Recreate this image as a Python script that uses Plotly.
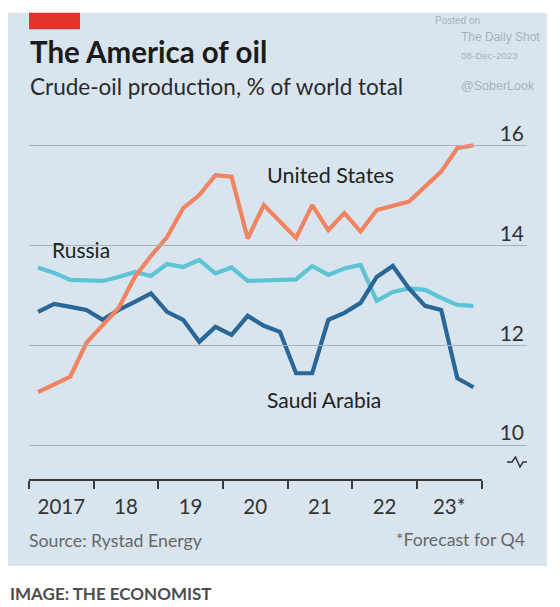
import plotly.graph_objects as go

W, H = 560, 607

quarters = [f"{y}Q{q}" for y in range(2017, 2024) for q in range(1, 5)]

united_states = [11.06, 11.22, 11.37, 12.05, 12.39, 12.75, 13.37, 13.79, 14.17, 14.75,
                 15.01, 15.41, 15.38, 14.14, 14.81, 14.49, 14.15, 14.81, 14.31, 14.65,
                 14.28, 14.71, 14.79, 14.88, 15.18, 15.48, 15.95, 16.01]
russia = [13.56, 13.45, 13.31, 13.29, 13.29, 13.37, 13.47, 13.39, 13.63, 13.57,
          13.71, 13.44, 13.56, 13.29, 13.30, 13.31, 13.32, 13.59, 13.41, 13.54,
          13.61, 12.89, 13.07, 13.14, 13.11, 12.95, 12.81, 12.79]
saudi_arabia = [12.67, 12.83, 12.77, 12.71, 12.51, 12.71, 12.87, 13.04, 12.67, 12.51,
                12.07, 12.37, 12.21, 12.59, 12.39, 12.27, 11.44, 11.44, 12.51, 12.65,
                12.85, 13.37, 13.59, 13.14, 12.79, 12.71, 11.34, 11.16]

year_ticks = [2017, 2018, 2019, 2020, 2021, 2022, 2023, 2024]
year_labels = ["2017", "18", "19", "20", "21", "22", "23*"]
y_ticks = [10, 12, 14, 16]

x_num = [int(q[:4]) + (int(q[-1]) - 1) / 4 + 0.125 for q in quarters]

def px(x):
    return x / W

def py(y):
    return 1 - y / H

FONT = "Lato"
US_C = "#f08462"
RU_C = "#5cc4d4"
SA_C = "#2a6696"
BG = "#d9e5ee"

fig = go.Figure()
fig.add_trace(go.Scatter(x=x_num, y=russia, mode="lines", line=dict(color=RU_C, width=4.2), hoverinfo="skip"))
fig.add_trace(go.Scatter(x=x_num, y=saudi_arabia, mode="lines", line=dict(color=SA_C, width=4.2), hoverinfo="skip"))
fig.add_trace(go.Scatter(x=x_num, y=united_states, mode="lines", line=dict(color=US_C, width=4.2), hoverinfo="skip"))

# helper traces that carry the year axes
fig.add_trace(go.Scatter(x=[2017, 2024], y=[10, 10], xaxis="x2", yaxis="y", mode="lines",
                         line=dict(width=0), showlegend=False, hoverinfo="skip", opacity=0))
fig.add_trace(go.Scatter(x=[2017, 2024], y=[10, 10], xaxis="x3", yaxis="y", mode="lines",
                         line=dict(width=0), showlegend=False, hoverinfo="skip", opacity=0))

X0, X_END = 30, 481.5          # pixel positions of 2017 and 2024 on the year axis
per_year = (X_END - X0) / 7
x_range_end = 2017 + (527 - X0) / per_year

fig.update_layout(
    width=W, height=H,
    margin=dict(l=0, r=0, t=0, b=0),
    paper_bgcolor="white",
    plot_bgcolor="rgba(0,0,0,0)",
    showlegend=False,
    font=dict(family=FONT, color="#222"),
    xaxis=dict(domain=[px(X0), px(527)], range=[2017, x_range_end],
               showgrid=False, zeroline=False, showticklabels=False, showline=False, ticks=""),
    yaxis=dict(domain=[py(470), py(120)], range=[9.501, 16.515],
               tickvals=y_ticks, showgrid=True, gridcolor="#a6b1ba", gridwidth=1,
               zeroline=False, showline=False, side="right",
               ticklabelposition="inside", ticklabelshift=-12, ticklabelstandoff=0,
               tickfont=dict(family=FONT, size=21, color="#333")),
    xaxis2=dict(domain=[px(X0 - 1), px(X_END)], range=[2017, 2024], anchor="free",
                position=py(480), tickvals=year_ticks, ticks="outside",
                ticklen=8, tickwidth=2, tickcolor="#3a3a3a", showline=True, linecolor="#3a3a3a",
                linewidth=2, showticklabels=False, showgrid=False, zeroline=False),
    xaxis3=dict(domain=[px(X0 - 1), px(X_END)], range=[2017, 2024], anchor="free",
                position=py(492),
                tickvals=[y + 0.5 for y in year_ticks[:-1]], ticktext=year_labels,
                ticks="", showline=False, showgrid=False, zeroline=False,
                tickfont=dict(family=FONT, size=20.5, color="#333")),
)

shapes = [
    dict(type="rect", xref="paper", yref="paper", x0=px(8), x1=px(547), y0=py(566), y1=py(12.7),
         fillcolor=BG, line=dict(width=0), layer="below"),
    dict(type="rect", xref="paper", yref="paper", x0=px(29), x1=px(80), y0=py(29.3), y1=py(12.7),
         fillcolor="#e3342b", line=dict(width=0), layer="below"),
    dict(type="path", xref="paper", yref="paper",
         path=f"M {px(507)},{py(462)} L {px(512)},{py(462)} L {px(515.5)},{py(457)} "
              f"L {px(520)},{py(467)} L {px(523)},{py(462)} L {px(527)},{py(462)}",
         line=dict(color="#333", width=1.5)),
]
fig.update_layout(shapes=shapes)

ann = []
def text(x, y, s, size, color="#222", xanchor="left", bold=False, family=FONT):
    if bold:
        s = f"<b>{s}</b>"
    ann.append(dict(x=px(x), y=py(y), xref="paper", yref="paper", text=s, showarrow=False,
                    xanchor=xanchor, yanchor="middle", xshift=-2 if xanchor == "left" else 0,
                    font=dict(family=family, size=size, color=color)))

text(30, 51, "The America of oil", 29.5, "#1b1b1b", bold=True)
text(30, 86, "Crude-oil production, % of world total", 22.5, "#2a2a2a")
text(435, 21, "Posted on", 10, "#a9b1b9", family="Liberation Sans")
text(461, 37, "The Daily Shot", 12, "#a9b1b9", family="Liberation Sans")
text(461, 56, "08-Dec-2023", 9.8, "#a9b1b9", family="Liberation Sans")
text(461, 86, "@SoberLook", 12.5, "#a9b1b9", family="Liberation Sans")
text(267, 175, "United States", 21.5, "#222")
text(52, 249, "Russia", 21, "#222")
text(267, 399, "Saudi Arabia", 21, "#222")
text(29, 540, "Source: Rystad Energy", 17.7, "#666")
text(527, 539, "*Forecast for Q4", 17.7, "#666", xanchor="right")
text(10, 593, "IMAGE: THE ECONOMIST", 17, "#4d4d4d", bold=True)
fig.update_layout(annotations=ann)

fig.write_html("out.html", config={"displayModeBar": False},
               post_script="document.body.style.margin='0px';")
